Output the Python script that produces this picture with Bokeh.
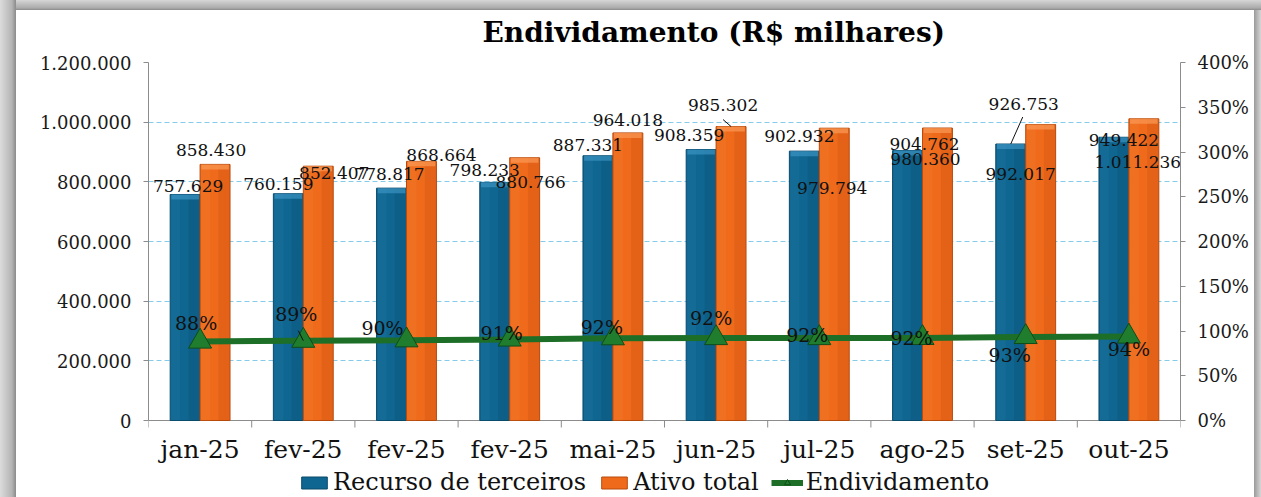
from bokeh.plotting import figure
from bokeh.models import (Range1d, LinearAxis, FixedTicker, CustomJSTickFormatter,
                          ColumnDataSource, Legend, LegendItem)
from bokeh.core.properties import value
from bokeh.embed import file_html
from bokeh.resources import INLINE

# ---------------- data ----------------
categories = ["jan-25", "fev-25", "fev-25", "fev-25", "mai-25",
              "jun-25", "jul-25", "ago-25", "set-25", "out-25"]
recurso = [757629, 760159, 778817, 798233, 887331, 908359, 902932, 904762, 926753, 949422]
ativo = [858430, 852407, 868664, 880766, 964018, 985302, 979794, 980360, 992017, 1011236]
endividamento = [88.3, 89.2, 89.7, 90.6, 92.0, 92.2, 92.2, 92.3, 93.4, 93.9]
left_ticks = [0, 200000, 400000, 600000, 800000, 1000000, 1200000]
right_ticks = [0, 50, 100, 150, 200, 250, 300, 350, 400]
title_text = "Endividamento (R$ milhares)"
series_names = ["Recurso de terceiros", "Ativo total", "Endividamento"]

# label pixel offsets (style: where Excel placed each data label)
rec_dx = [3, -10, -2, -10, -10, -12, -5, 17, 13, 10]
rec_dy = [-8, -10, -14, -12, -11, -15, -15, -7, -40, 3]
atv_dx = [-4, 16, 20, 6, 0, -8, -2, -12, -20, -6]
atv_dy = [-14, 7, -6, 24, -13, -22, 60, 31, 49, 43]
pct_dx = [-4, -7, -24, -8, -11, -5, -12, -11, -16, 0]
pct_dy = [-18, -27, -12, -6, -11, -20, -3, 0, 18, 13]

# ---------------- styles ----------------
FONT = "DejaVu Serif"
BLUE, BLUE_DARK, BLUE_LIGHT = "#0f6690", "#0a4a6b", "#3b93c2"
ORANGE, ORANGE_DARK, ORANGE_LIGHT = "#f06a1c", "#b84a0c", "#f99a55"
GREEN, GREEN_DARK = "#1d6e27", "#0f4d18"
AXIS = "#8c8c8c"
BAR_W = 0.29

W, H = 1261, 497
ML, MR, MT = 148, 81, 62
PLOT_PX = 358                 # pixel height of the value area (0 .. max)
BELOW_PX = H - MT - PLOT_PX   # room under the zero line for category labels + legend
FRAME_W = W - ML - MR

n = len(categories)
idx = list(range(n))
x_rec = [i - BAR_W / 2 for i in idx]
x_atv = [i + BAR_W / 2 for i in idx]

y_max = left_ticks[-1]
p_max = right_ticks[-1]
px_x = FRAME_W / n
px_y = PLOT_PX / y_max
px_p = PLOT_PX / p_max


def fmt(v):
    return f"{v:,}".replace(",", ".")


p = figure(width=W, height=H, x_range=Range1d(-0.5, n - 0.5),
           y_range=Range1d(-BELOW_PX / px_y, y_max),
           x_axis_location=None,
           output_backend="svg", toolbar_location=None,
           min_border_left=ML, min_border_right=MR, min_border_top=MT, min_border_bottom=0,
           border_fill_alpha=0, background_fill_alpha=0, outline_line_color=None)
p.styles = {
    "background": ("linear-gradient(to right, #dcdcdc, #b4b4b4 75%, #8a8a8a) left top / 16px 100% no-repeat, "
                   "linear-gradient(to bottom, #d6d6d6, #aaaaaa 80%, #8a8a8a) left top / 100% 10px no-repeat, "
                   "linear-gradient(to left, #d6d6d6, #9a9a9a) right top / 7px 100% no-repeat, #ffffff")
}
p.extra_y_ranges = {"pct": Range1d(-BELOW_PX / px_p, p_max)}

# title
p.title.text = title_text
p.title.align = "left"
p.title.offset = 334
p.title.text_font = FONT
p.title.text_font_style = "bold"
p.title.text_font_size = "28px"
p.title.text_color = "#000000"
p.title.standoff = 27

# left axis
p.yaxis.ticker = FixedTicker(ticks=left_ticks, minor_ticks=[])
p.yaxis.bounds = (0, y_max)
p.yaxis.formatter = CustomJSTickFormatter(
    code="return Math.round(tick).toString().replace(/\\B(?=(\\d{3})+(?!\\d))/g, '.');")
p.yaxis.axis_line_color = AXIS
p.yaxis.major_tick_line_color = AXIS
p.yaxis.major_tick_out = 5
p.yaxis.major_tick_in = 0
p.yaxis.minor_tick_line_color = None
p.yaxis.major_label_standoff = 12
p.yaxis.major_label_text_font = FONT
p.yaxis.major_label_text_font_size = "18px"
p.yaxis.major_label_text_color = "#1a1a1a"

# right axis
ax_r = LinearAxis(y_range_name="pct", ticker=FixedTicker(ticks=right_ticks, minor_ticks=[]),
                  formatter=CustomJSTickFormatter(code="return Math.round(tick) + '%';"),
                  bounds=(0, p_max))
ax_r.axis_line_color = AXIS
ax_r.major_tick_line_color = AXIS
ax_r.major_tick_out = 5
ax_r.major_tick_in = 0
ax_r.minor_tick_line_color = None
ax_r.major_label_standoff = 12
ax_r.major_label_text_font = FONT
ax_r.major_label_text_font_size = "18px"
ax_r.major_label_text_color = "#1a1a1a"
p.add_layout(ax_r, "right")

p.xgrid.grid_line_color = None
p.ygrid.grid_line_color = "#86cbea"
p.ygrid.grid_line_dash = "5 3"
p.ygrid.grid_line_width = 1

# category axis (drawn along the zero line)
bounds_x = [i - 0.5 for i in range(n + 1)]
p.segment(x0=[-0.5], y0=[0], x1=[n - 0.5], y1=[0], line_color=AXIS, line_width=1)
p.segment(x0=bounds_x, y0=[0] * (n + 1), x1=bounds_x, y1=[-7 / px_y] * (n + 1),
          line_color=AXIS, line_width=1)
p.text(x=idx, y=[0] * n, text=categories, y_offset=29, text_font=value(FONT),
       text_font_size="25px", text_align="center", text_baseline="middle", text_color="#111111")

# bars
BEVEL = 5 / px_y


def bars(xs, vals, base, dark, light):
    main = p.vbar(x=xs, top=vals, bottom=0, width=BAR_W, fill_color=base,
                  line_color=dark, line_width=1)
    p.vbar(x=[x + BAR_W * 0.3 for x in xs], top=vals, bottom=0, width=BAR_W * 0.38,
           fill_color=dark, fill_alpha=0.22, line_color=None)
    p.vbar(x=[x - BAR_W * 0.32 for x in xs], top=vals, bottom=0, width=BAR_W * 0.3,
           fill_color=light, fill_alpha=0.12, line_color=None)
    p.vbar(x=xs, top=vals, bottom=[v - BEVEL for v in vals], width=BAR_W * 0.92,
           fill_color=light, fill_alpha=0.7, line_color=None)
    return main


r_rec = bars(x_rec, recurso, BLUE, BLUE_DARK, BLUE_LIGHT)
r_atv = bars(x_atv, ativo, ORANGE, ORANGE_DARK, ORANGE_LIGHT)

# line
r_line = p.line(idx, endividamento, y_range_name="pct", line_color=GREEN, line_width=6)
r_mark = p.scatter(idx, endividamento, y_range_name="pct", marker="triangle", size=23,
                   fill_color="#1f7d2d", line_color=GREEN_DARK, line_width=1)

# leader lines (from point to its moved label)
leaders = [(x_atv[5], ativo[5], -8, -7, "y"), (x_rec[8], recurso[8], 12, -27, "y"),
           (idx[1], endividamento[1], -5, -10, "p")]
for lx, ly, dx, dy, ax in leaders:
    if ax == "y":
        p.segment(x0=[lx], y0=[ly], x1=[lx + dx / px_x], y1=[ly - dy / px_y],
                  line_color="#111111", line_width=1)
    else:
        p.segment(x0=[lx], y0=[ly], x1=[lx + dx / px_x], y1=[ly - dy / px_p],
                  line_color="#111111", line_width=1, y_range_name="pct")

# data labels
lab_rec = ColumnDataSource(dict(x=x_rec, y=recurso, t=[fmt(v) for v in recurso], dx=rec_dx, dy=rec_dy))
lab_atv = ColumnDataSource(dict(x=x_atv, y=ativo, t=[fmt(v) for v in ativo], dx=atv_dx, dy=atv_dy))
lab_pct = ColumnDataSource(dict(x=idx, y=endividamento, t=[f"{round(v)}%" for v in endividamento],
                                dx=pct_dx, dy=pct_dy))
for src, size, rng in [(lab_rec, "17px", "default"), (lab_atv, "17px", "default"), (lab_pct, "19px", "pct")]:
    p.text(x="x", y="y", text="t", x_offset="dx", y_offset="dy", source=src,
           text_font=value(FONT), text_font_size=size, text_align="center",
           text_baseline="middle", text_color="#111111", y_range_name=rng)

# legend
legend = Legend(items=[LegendItem(label=series_names[0], renderers=[r_rec]),
                       LegendItem(label=series_names[1], renderers=[r_atv]),
                       LegendItem(label=series_names[2], renderers=[r_line, r_mark])],
                orientation="horizontal", location=(150, 1),
                label_text_font=FONT, label_text_font_size="24px", label_text_color="#111111",
                glyph_width=32, glyph_height=15, label_standoff=3, spacing=12,
                padding=0, margin=0, border_line_color=None, background_fill_alpha=0)
p.add_layout(legend, "center")

open("out.html", "w").write(file_html(p, INLINE))
